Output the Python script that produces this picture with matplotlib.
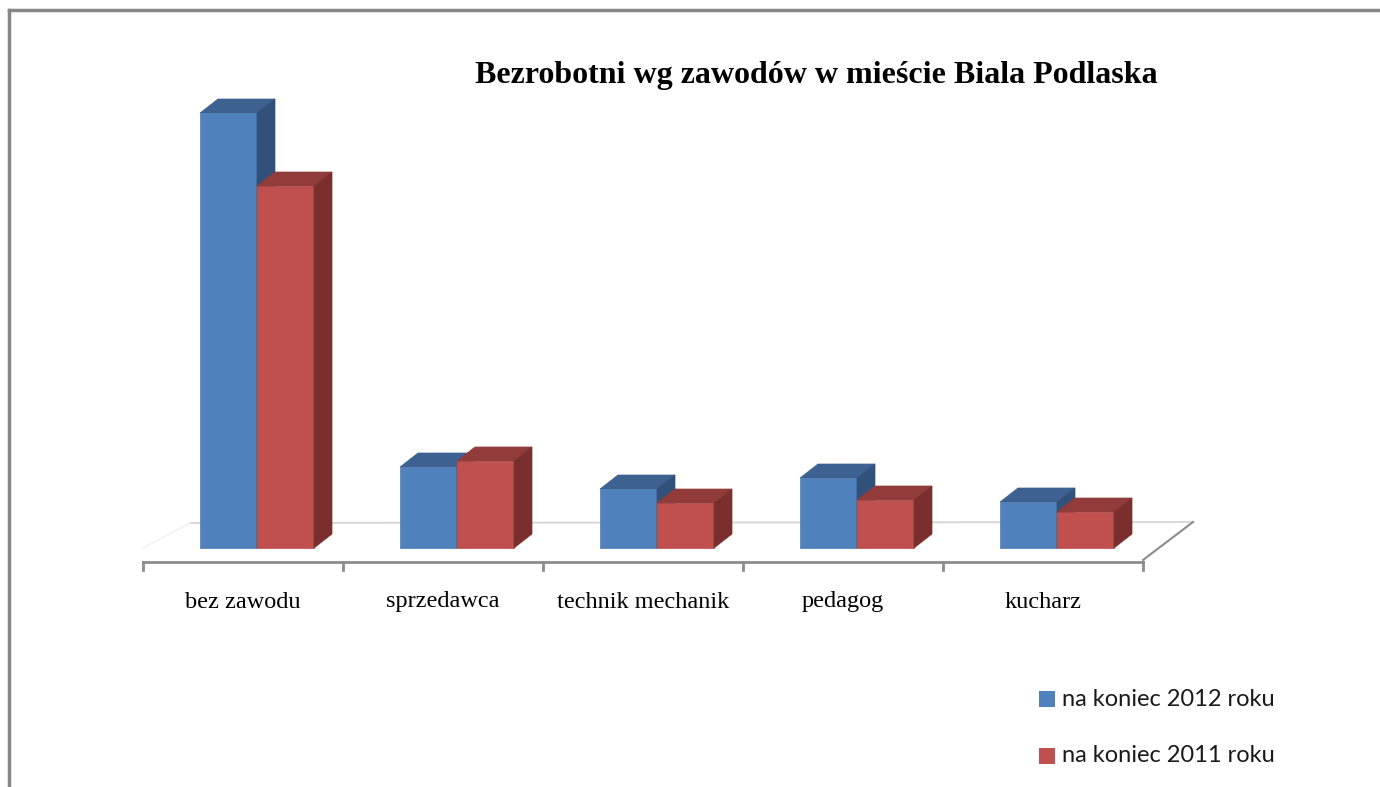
import matplotlib
matplotlib.use("Agg")
import matplotlib.pyplot as plt
from matplotlib.patches import Polygon, Rectangle
from matplotlib.lines import Line2D

# ---- data (arbitrary units; the chart has no value axis) ----
categories = ["bez zawodu", "sprzedawca", "technik mechanik", "pedagog", "kucharz"]
series_names = ["na koniec 2012 roku", "na koniec 2011 roku"]
values_2012 = [435, 81, 59, 70, 46]
values_2011 = [362, 87, 45, 48, 36]
title = "Bezrobotni wg zawodów w mieście Biala Podlaska"

# ---- style ----
front = ["#4F81BD", "#C0504D"]
top = ["#3D6190", "#913C3A"]
side = ["#31507A", "#7A2F2E"]

W, H = 1380, 787
fig = plt.figure(figsize=(W / 100, H / 100), dpi=100)
fig.patch.set_facecolor("white")

# axes: x -0.5..4.5 maps to px 143..1143 ; y -30..450 maps to px 578..98 (1 unit = 1 px)
ax_left, ax_right = 143, 1143
ax_top, ax_bottom = 98, 578
ax = fig.add_axes([ax_left / W, 1 - ax_bottom / H, (ax_right - ax_left) / W, (ax_bottom - ax_top) / H])
ax.set_xlim(-0.5, 4.5)
ax.set_ylim(-30, 450)
ax.axis("off")

px_x = (ax_right - ax_left) / 5.0  # px per category unit
dx = 18 / px_x   # depth offset in x data units
dy = 14          # depth offset in y data units
floor_front = 0
floor_back = floor_front + 25
axis_y = -14

n = len(categories)
# back wall grid line and floor edges
ax.add_line(Line2D([-0.5 + 47 / px_x, 4.5 + 50 / px_x], [floor_back, floor_back + 1],
                   color="#D9D9D9", lw=1.5, clip_on=False, zorder=0))
ax.add_line(Line2D([-0.5, -0.5 + 47 / px_x], [floor_front, floor_back],
                   color="#F0F0F0", lw=1, clip_on=False, zorder=0))
ax.add_line(Line2D([-0.5, 4.5], [axis_y, axis_y], color="#8C8C8C", lw=2, clip_on=False, zorder=1))
ax.add_line(Line2D([4.5, 4.5 + 50 / px_x], [axis_y + 2, floor_back + 1],
                   color="#8C8C8C", lw=1.5, clip_on=False, zorder=1))
for i in range(n + 1):
    ax.add_line(Line2D([i - 0.5, i - 0.5], [axis_y, axis_y - 8], color="#8C8C8C", lw=2,
                       clip_on=False, zorder=1))

bar_w = 57 / px_x
offsets = [-43 / px_x, 14 / px_x]
for s, vals in enumerate([values_2012, values_2011]):
    xs = [i + offsets[s] for i in range(n)]
    ax.bar(xs, vals, width=bar_w, align="edge", bottom=floor_front, color=front[s],
           edgecolor=front[s], lw=0.5, zorder=3 + s, label=series_names[s])
    for x0, v in zip(xs, vals):
        x1 = x0 + bar_w
        ytop = floor_front + v
        ax.add_patch(Polygon([(x0, ytop), (x1, ytop), (x1 + dx, ytop + dy), (x0 + dx, ytop + dy)],
                             closed=True, facecolor=top[s], edgecolor=top[s], lw=0.5, zorder=3 + s))
        ax.add_patch(Polygon([(x1, floor_front), (x1, ytop), (x1 + dx, ytop + dy), (x1 + dx, floor_front + dy)],
                             closed=True, facecolor=side[s], edgecolor=side[s], lw=0.5, zorder=3 + s))

# category labels
for i, c in enumerate(categories):
    ax.text(i, -54, c, ha="center", va="center", fontsize=17.5,
            family="Liberation Serif", color="black", clip_on=False)

# title
fig.text(816 / W, 1 - 76 / H, title, ha="center", va="center", fontsize=23,
         fontweight="bold", family="Liberation Serif", color="black")

# legend (manual, to match placement)
for s, name in enumerate(series_names):
    yc = [699, 756][s]
    fig.patches.append(Rectangle((1039 / W, 1 - (yc + 8) / H), 16 / W, 16 / H,
                                 transform=fig.transFigure, facecolor=front[s], edgecolor="none"))
    fig.text(1062 / W, 1 - yc / H, name, ha="left", va="center", fontsize=17,
             family="Lato", color="#1a1a1a")

# outer frame (top and left visible)
fig.add_artist(Line2D([9 / W, 9 / W], [0, 1 - 10 / H], transform=fig.transFigure, color="#878787", lw=2.5))
fig.add_artist(Line2D([9 / W, 1], [1 - 10 / H, 1 - 10 / H], transform=fig.transFigure, color="#878787", lw=2.5))

fig.savefig("out.png", dpi=100, facecolor="white")
